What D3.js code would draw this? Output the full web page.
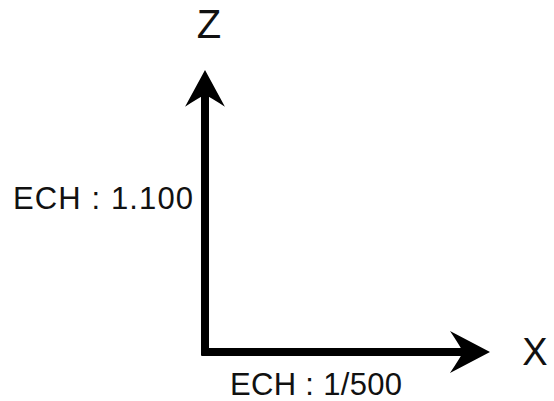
<!DOCTYPE html>
<html>
<head>
<meta charset="utf-8">
<script src="https://cdn.jsdelivr.net/npm/d3@7"></script>
<style>
  html, body { margin: 0; padding: 0; background: #fff; }
  text { font-family: "Liberation Sans", Arial, sans-serif; fill: #111; }
</style>
</head>
<body>
<div id="graph"></div>
<script>
// axis names and scale labels
var axisNames = ["X", "Z"];
var scaleLabels = ["ECH : 1/500", "ECH : 1.100"];
var axisExtent = [0, 1];

var svgWidth = 554, svgHeight = 401;

var svg = d3.select("#graph")
  .append("svg")
    .attr("width", svgWidth)
    .attr("height", svgHeight);

// origin sits bottom-left, axes run out to the arrow tips
var x = d3.scaleLinear().domain(axisExtent).range([205, 490]);
var z = d3.scaleLinear().domain(axisExtent).range([352, 70]);

var g = svg.append("g");

// arrowhead pointing along +x, tip at 0,0
var head = "M0,0 L-40,-21 Q-30,-6 -27,0 Q-30,6 -40,21 Z";

// horizontal axis
g.append("line")
    .attr("x1", x(0) - 3.5).attr("x2", x(1) - 20)
    .attr("y1", z(0)).attr("y2", z(0))
    .attr("stroke", "#000")
    .attr("stroke-width", 8);

g.append("path")
    .attr("d", head)
    .attr("fill", "#000")
    .attr("transform", "translate(" + x(1) + "," + z(0) + ")");

// vertical axis
g.append("line")
    .attr("x1", x(0)).attr("x2", x(0))
    .attr("y1", z(0) + 3.5).attr("y2", z(1) + 20)
    .attr("stroke", "#000")
    .attr("stroke-width", 8);

g.append("path")
    .attr("d", head)
    .attr("fill", "#000")
    .attr("transform", "translate(" + x(0) + "," + z(1) + ") rotate(-90) scale(0.92,0.95)");

// axis names
g.append("text")
    .attr("x", x(1) + 45)
    .attr("y", z(0) + 13)
    .attr("text-anchor", "middle")
    .attr("font-size", 38)
    .text(axisNames[0]);

g.append("text")
    .attr("x", x(0) + 4)
    .attr("y", 38)
    .attr("text-anchor", "middle")
    .attr("font-size", 40)
    .text(axisNames[1]);

// scale labels
g.append("text")
    .attr("x", 230)
    .attr("y", z(0) + 43)
    .attr("font-size", 31)
    .attr("textLength", 172)
    .text(scaleLabels[0]);

g.append("text")
    .attr("x", 13)
    .attr("y", 209)
    .attr("font-size", 31)
    .attr("textLength", 180)
    .text(scaleLabels[1]);
</script>
</body>
</html>
